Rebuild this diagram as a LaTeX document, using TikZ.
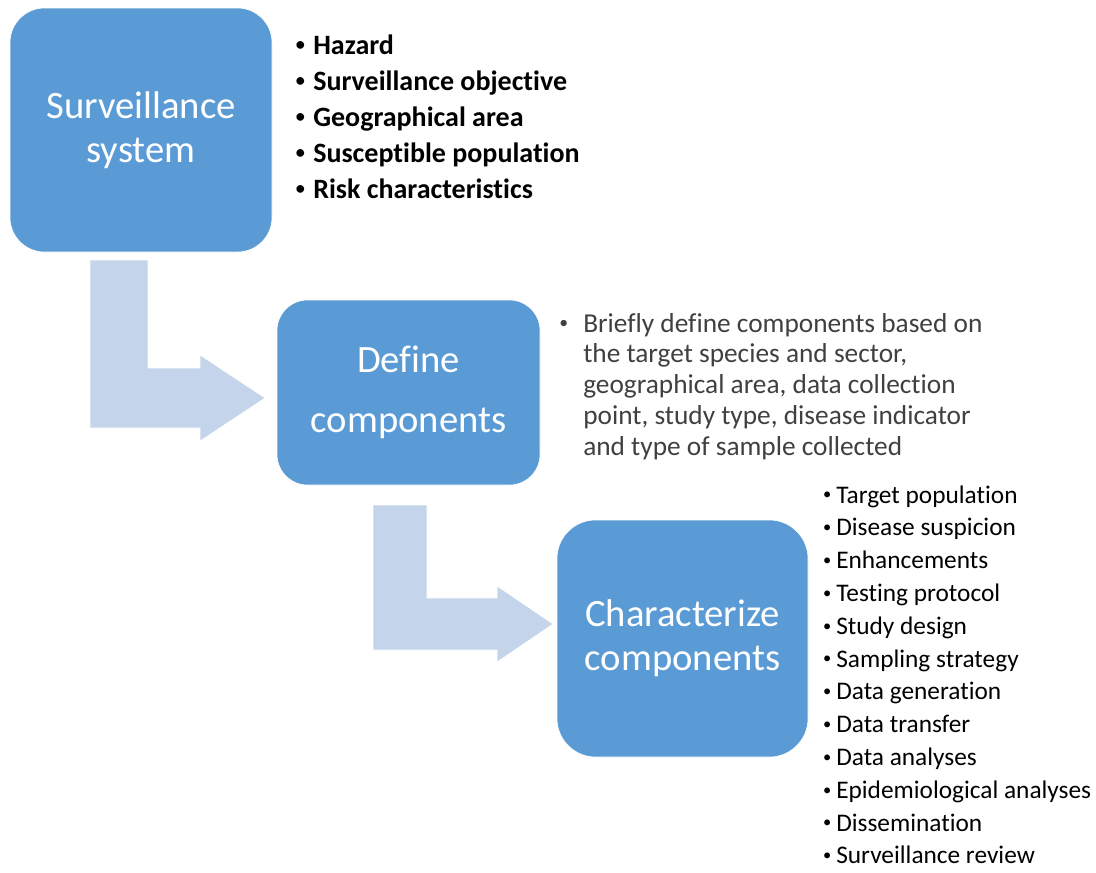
\documentclass[tikz,border=0pt]{standalone}
\usepackage{fontspec}
\setmainfont{Carlito}[Ligatures=NoCommon]
\usetikzlibrary{positioning,calc}
\definecolor{boxblue}{RGB}{91,155,213}
\definecolor{arrowblue}{RGB}{196,213,235}
\definecolor{textgray}{RGB}{64,64,64}
\tikzset{
    stage/.style = {draw=white, fill=boxblue, rectangle, rounded corners=26pt,
        text=white, align=center, inner sep=0pt,
        font=\fontsize{29}{33}\selectfont},
    item/.style = {anchor=base west, inner sep=0pt},
    bent/.style = {draw=white, fill=arrowblue, thin}
}
\newcommand{\itm}[1][0.3em]{\llap{\raisebox{0.12em}{\scalebox{0.65}{\textbullet}}\hspace{#1}}}

\begin{document}
\begin{tikzpicture}[x=0.75pt, y=-0.75pt]
    \useasboundingbox (0,0) rectangle (1096,872);
    \node [stage, minimum width=196.5pt, minimum height=183pt] (system) at (141,130) {Surveillance\\system};
    \node [stage, minimum width=197.25pt, minimum height=138.75pt, rounded corners=23pt,
        font=\fontsize{29}{45}\selectfont] (define) at (408.5,392.5) {Define\\components};
    \node [stage, minimum width=188.25pt, minimum height=177.75pt, rounded corners=29pt] (charac) at (682.5,638.5) {Characterize\\components};
    \coordinate (bend1) at (90,260);
    \coordinate (bend2) at (373,505);
    \draw [bent] (bend1) -- (148,260) -- (148,368) -- (200,368) -- (200,355) -- (265,398)
        -- (200,441) -- (200,428) -- (90,428) -- cycle;
    \draw [bent] (bend2) -- (427,505) -- (427,598) -- (497,598) -- (497,586) -- (553,624)
        -- (497,662) -- (497,650) -- (373,650) -- cycle;
    \foreach \t [count=\i] in {Hazard, Surveillance objective, Geographical area,
        Susceptible population, Risk characteristics}{
        \node [item, font=\bfseries\fontsize{21}{25}\selectfont] (sys\i) at (313,{54+36*(\i-1)}) {\itm\t};
        }
    \node [item, text=textgray, font=\fontsize{20.5}{23}\selectfont] (def1) at (583,332) {\itm[0.55em]Briefly define components based on};
    \foreach \t [count=\i from 2] in {{the target species and sector,}, {geographical area, data collection},
        {point, study type, disease indicator}, {and type of sample collected}}{
        \node [item, text=textgray, font=\fontsize{20.5}{23}\selectfont] (def\i) at (583,{332+30.8*(\i-1)}) {\t};
        }
    \foreach \t [count=\i] in {Target population, Disease suspicion, Enhancements, Testing protocol,
        Study design, Sampling strategy, Data generation, Data transfer, Data analyses,
        Epidemiological analyses, Dissemination, Surveillance review}{
        \node [item, font=\fontsize{19}{23}\selectfont] (chr\i) at (836,{503+32.8*(\i-1)}) {\itm[0.2em]\t};
        }
\end{tikzpicture}
\end{document}
